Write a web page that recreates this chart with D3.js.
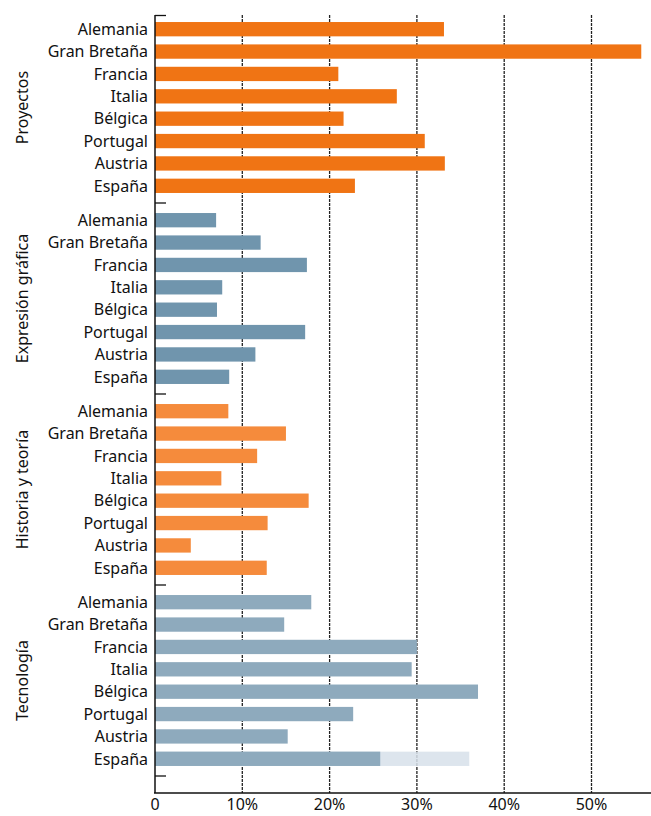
<!DOCTYPE html>
<html>
<head>
<meta charset="utf-8">
<script src="https://cdn.jsdelivr.net/npm/d3@7"></script>
<style>
body{margin:0;background:#fff;}
svg text{font-family:"Noto Sans",sans-serif;fill:#111;}
</style>
</head>
<body>
<div id="chart"></div>
<script>
var groups = ["Proyectos","Expresión gráfica","Historia y teoría","Tecnología"];
var countries = ["Alemania","Gran Bretaña","Francia","Italia","Bélgica","Portugal","Austria","España"];
var proyectos = [33.1,55.7,21.0,27.7,21.6,30.9,33.2,22.9];
var expresion = [7.0,12.1,17.4,7.7,7.1,17.2,11.5,8.5];
var historia = [8.4,15.0,11.7,7.6,17.6,12.9,4.1,12.8];
var tecnologia = [17.9,14.8,30.0,29.4,37.0,22.7,15.2,25.8];
var espanaExtra = 36.0; // lighter bar behind España / Tecnología
var ticks = [0,10,20,30,40,50];
var tickLabels = ["0","10%","20%","30%","40%","50%"];
var colors = ["#f07414","#7095ad","#f58b3c","#8eaabd"];

var series = [proyectos,expresion,historia,tecnologia];

var svg = d3.select("#chart").append("svg").attr("width",651).attr("height",816);

var x = d3.scaleLinear().domain([0,10]).range([155,242.3]);
var yg = d3.scaleBand().domain(groups).range([18,782]);
var yc = d3.scaleBand().domain(countries).range([0,179]).paddingInner(0.36).paddingOuter(0.18);

// grid
svg.selectAll("line.grid").data(ticks.slice(1)).enter().append("line")
	.attr("x1",function(d){return x(d);}).attr("x2",function(d){return x(d);})
	.attr("y1",15).attr("y2",793)
	.attr("stroke","#222").attr("stroke-width",1.3).attr("stroke-dasharray","3,1");

groups.forEach(function(g,gi){
	var gy = yg(g);
	if(gi==3){
		svg.append("rect").attr("x",x(0)).attr("y",gy+yc("España"))
			.attr("width",x(espanaExtra)-x(0)).attr("height",yc.bandwidth())
			.attr("fill","#d7e1ea").attr("opacity",0.85);
	}
	svg.selectAll("rect.g"+gi).data(series[gi]).enter().append("rect")
		.attr("x",x(0))
		.attr("y",function(d,i){return gy+yc(countries[i]);})
		.attr("width",function(d){return x(d)-x(0);})
		.attr("height",yc.bandwidth())
		.attr("fill",colors[gi]);
	svg.selectAll("text.c"+gi).data(countries).enter().append("text")
		.attr("x",148)
		.attr("y",function(d){return gy+yc(d)+yc.bandwidth()/2;})
		.attr("dy","0.36em")
		.attr("text-anchor","end")
		.attr("font-size","16px")
		.text(function(d){return d;});
	svg.append("text")
		.attr("transform","translate(22,"+(gy+89.5)+") rotate(-90)")
		.attr("dy","0.36em")
		.attr("text-anchor","middle")
		.attr("font-size","16px")
		.text(g);
	// little separator tick below each group
	svg.append("line").attr("x1",155).attr("x2",166)
		.attr("y1",gy+185).attr("y2",gy+185)
		.attr("stroke","#111").attr("stroke-width",1.3);
});

// axes
svg.append("line").attr("x1",155).attr("x2",155).attr("y1",15).attr("y2",793)
	.attr("stroke","#111").attr("stroke-width",1.5);
svg.append("line").attr("x1",155).attr("x2",166).attr("y1",15.5).attr("y2",15.5)
	.attr("stroke","#111").attr("stroke-width",1.3);
svg.append("line").attr("x1",154).attr("x2",651).attr("y1",793).attr("y2",793)
	.attr("stroke","#111").attr("stroke-width",1.5);

svg.selectAll("text.tick").data(ticks).enter().append("text")
	.attr("x",function(d){return x(d);})
	.attr("y",810)
	.attr("text-anchor","middle")
	.attr("font-size","16px")
	.text(function(d,i){return tickLabels[i];});
</script>
</body>
</html>
